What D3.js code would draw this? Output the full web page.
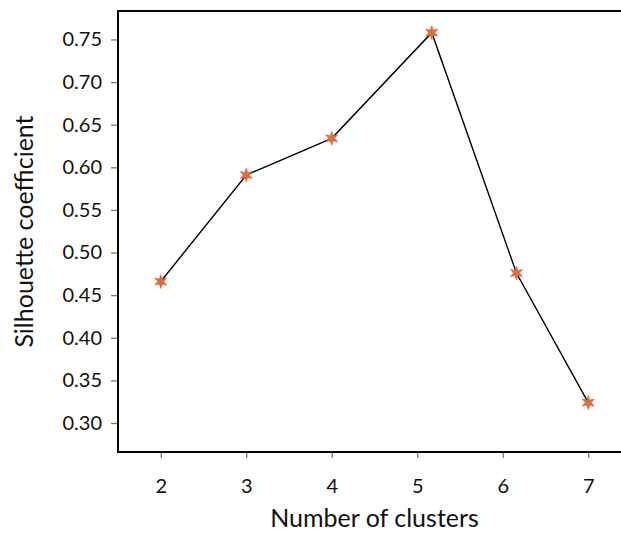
<!DOCTYPE html>
<html>
<head>
<meta charset="utf-8">
<script src="https://cdn.jsdelivr.net/npm/d3@7"></script>
<style>
  body { margin: 0; background: #fff; overflow: hidden; }
  svg { display: block; }
  text { font-family: Lato, "Open Sans", sans-serif; fill: #111; }
</style>
</head>
<body>
<div id="chart"></div>
<script>
// cluster counts (x) and silhouette coefficient (y)
var clusters = [2, 3, 4, 5.17, 6.16, 7];
var silhouette = [0.466, 0.591, 0.634, 0.758, 0.476, 0.324];
var xTicks = [2, 3, 4, 5, 6, 7];
var yTicks = [0.30, 0.35, 0.40, 0.45, 0.50, 0.55, 0.60, 0.65, 0.70, 0.75];

var width = 621, height = 534;
var pLeft = 118, pTop = 11, pRight = 631, pBottom = 452;

var svg = d3.select("#chart")
  .append("svg")
  .attr("width", width)
  .attr("height", height);

var x = d3.scaleLinear().domain([1.5, 7.5]).range([pLeft, pRight]);
var y = d3.scaleLinear().domain([0.266, 0.7834]).range([pBottom, pTop]);

// ticks
var xAxis = svg.append("g")
  .attr("transform", "translate(0," + pBottom + ")")
  .call(d3.axisBottom(x).tickValues(xTicks).tickFormat(d3.format("d")).tickSize(6).tickPadding(21));
var yAxis = svg.append("g")
  .attr("transform", "translate(" + pLeft + ",0)")
  .call(d3.axisLeft(y).tickValues(yTicks).tickFormat(d3.format(".2f")).tickSize(7).tickPadding(9));

[xAxis, yAxis].forEach(function(a){
  a.select(".domain").remove();
  a.selectAll(".tick line").attr("stroke", "#777").attr("stroke-width", 1.3);
  a.selectAll(".tick text").style("font-size", "20px").attr("fill", "#111");
});

// frame
svg.append("rect")
  .attr("x", pLeft).attr("y", pTop)
  .attr("width", pRight - pLeft).attr("height", pBottom - pTop)
  .attr("fill", "none").attr("stroke", "#000").attr("stroke-width", 2);

var pts = clusters.map(function(c, i){ return [c, silhouette[i]]; });

var line = d3.line()
  .x(function(d){ return x(d[0]); })
  .y(function(d){ return y(d[1]); });

svg.append("path")
  .datum(pts)
  .attr("d", line)
  .attr("fill", "none")
  .attr("stroke", "#000")
  .attr("stroke-width", 1.4);

// six-pointed star marker
function star(r1, r2) {
  var p = [];
  for (var k = 0; k < 12; k++) {
    var a = Math.PI * k / 6 - Math.PI / 2;
    var r = k % 2 ? r2 : r1;
    p.push([Math.cos(a) * r, Math.sin(a) * r]);
  }
  return "M" + p.join("L") + "Z";
}

svg.append("g").selectAll("path")
  .data(pts).enter().append("path")
  .attr("transform", function(d){ return "translate(" + x(d[0]) + "," + y(d[1]) + ")"; })
  .attr("d", star(7, 3))
  .attr("fill", "#dc6f3c")
  .attr("stroke", "#d0653a")
  .attr("stroke-width", 0.6);

// axis titles
svg.append("text")
  .attr("x", (pLeft + pRight) / 2)
  .attr("y", 527)
  .attr("text-anchor", "middle")
  .style("font-size", "25px")
  .text("Number of clusters");

svg.append("text")
  .attr("transform", "translate(33," + (pTop + pBottom) / 2 + ") rotate(-90)")
  .attr("text-anchor", "middle")
  .style("font-size", "25px")
  .text("Silhouette coefficient");
</script>
</body>
</html>
